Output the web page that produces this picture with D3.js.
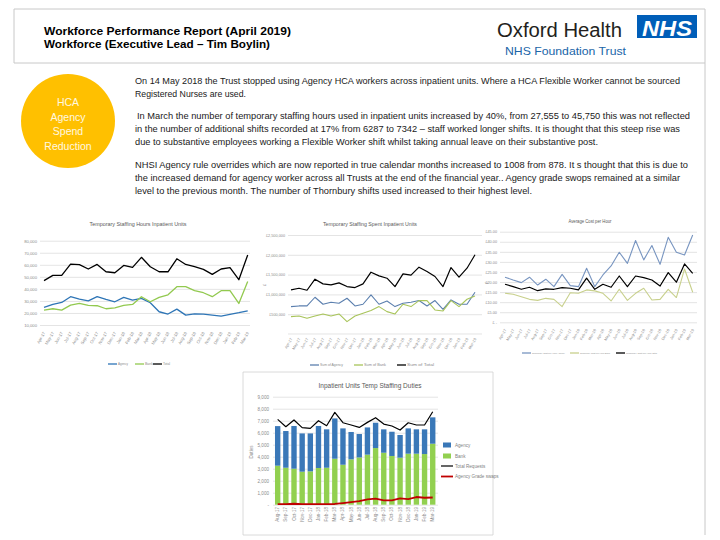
<!DOCTYPE html>
<html>
<head>
<meta charset="utf-8">
<script src="https://cdn.jsdelivr.net/npm/d3@7"></script>
<style>
body { margin: 0; background: #fff; }
svg { display: block; font-family: "Liberation Sans", Arial, sans-serif; }
</style>
</head>
<body>
<svg id="slide" width="720" height="540"></svg>
<script>
// months for the three line charts (Apr-17 .. Mar-19)
var months = ["Apr-17","May-17","Jun-17","Jul-17","Aug-17","Sep-17","Oct-17","Nov-17","Dec-17","Jan-18","Feb-18","Mar-18",
              "Apr-18","May-18","Jun-18","Jul-18","Aug-18","Sep-18","Oct-18","Nov-18","Dec-18","Jan-19","Feb-19","Mar-19"];

// Temporary Staffing Hours Inpatient Units
var hoursAgency = [24600,27100,28700,33500,31500,30100,33500,31200,29300,32900,30700,32100,28500,21000,19100,23200,18200,19300,19100,18200,17400,18800,20200,21800];
var hoursBank   = [22400,23500,22400,26500,27900,26300,26000,23500,24300,26300,27100,33500,29300,32900,35100,41800,41800,38500,36800,33500,38500,38500,27900,46200];
var hoursTotal  = [46800,51200,51200,60600,60100,56500,60300,54200,53400,59500,57800,66200,58400,54200,54200,65000,60300,58400,56200,52000,56500,57600,47600,68100];
var hoursTicks  = [10000,20000,30000,40000,50000,60000,70000,80000];

// Temporary Staffing Spent Inpatient Units
var spendAgency = [692000,709000,709000,928000,751000,802000,776000,903000,709000,751000,987000,751000,835000,692000,776000,802000,844000,709000,844000,624000,861000,751000,751000,1055000];
var spendBank   = [439000,456000,397000,456000,506000,456000,506000,312000,456000,523000,591000,692000,565000,506000,751000,692000,844000,844000,608000,582000,844000,692000,878000,962000];
var spendTotal  = [1114000,1156000,1105000,1384000,1266000,1240000,1291000,1198000,1173000,1266000,1561000,1468000,1409000,1198000,1519000,1485000,1688000,1578000,1452000,1198000,1679000,1435000,1662000,2000000];
var spendTicks  = [500000,1000000,1500000,2000000,2500000];

// Average Cost per Hour
var costAgency = [22.4,21.0,19.7,22.4,18.5,21.4,17.7,23.8,18.2,17.7,26.8,17.7,23.5,28.0,34.8,29.3,40.6,31.0,38.1,28.8,42.2,34.8,33.4,43.4];
var costBank   = [14.4,13.9,12.7,11.4,10.9,11.9,11.4,7.8,14.7,14.4,16.1,15.6,14.4,10.6,16.4,10.9,14.4,16.9,11.1,11.4,16.4,12.3,26.5,14.9];
var costTotal  = [18.9,17.7,16.4,17.4,15.7,16.6,16.4,17.2,16.9,16.1,21.9,16.4,18.9,17.4,23.0,17.7,23.0,22.2,21.0,18.0,24.7,19.9,29.0,24.3];
var costTicks  = [0,5,10,15,20,25,30,35,40,45];

// Inpatient Units Temp Staffing Duties
var dutyMonths   = ["Aug-17","Sep-17","Oct-17","Nov-17","Dec-17","Jan-18","Feb-18","Mar-18","Apr-18","May-18",
                    "Jun-18","Jul-18","Aug-18","Sep-18","Oct-18","Nov-18","Dec-18","Jan-19","Feb-19","Mar-19"];
var dutyBank     = [3250,3080,3000,2750,2780,3060,3080,3830,3330,3780,3940,4170,4720,4330,4060,3920,4250,4250,4220,5080];
var dutyAgency   = [3300,3060,3560,3190,3160,3500,3200,3360,3030,2280,1950,2270,2110,1950,2020,1890,2110,2030,2060,2200];
var dutyRequests = [7110,6500,7060,6420,6360,7000,6580,7690,6830,6640,6440,6860,7250,6720,6560,6220,6830,6640,6640,7750];
var gradeSwaps   = [50,50,80,50,50,50,50,60,140,220,300,450,500,360,360,530,470,640,580,600];
var dutyTicks    = [0,1000,2000,3000,4000,5000,6000,7000,8000,9000];

var svg = d3.select("#slide");

// slide frame
svg.append("path").attr("d", "M14,63V9H705V535M14,63H705")
    .attr("fill", "none").attr("stroke", "#c8c8c8").attr("stroke-width", 1);

// header
svg.append("text").attr("x", 44).attr("y", 34.5).attr("font-size", 10.5).attr("font-weight", "bold")
    .attr("textLength", 247).attr("lengthAdjust", "spacingAndGlyphs")
    .text("Workforce Performance Report (April 2019)");
svg.append("text").attr("x", 44).attr("y", 47.5).attr("font-size", 10.5).attr("font-weight", "bold")
    .attr("textLength", 226).attr("lengthAdjust", "spacingAndGlyphs")
    .text("Workforce (Executive Lead \u2013 Tim Boylin)");

// logo
svg.append("text").attr("x", 497).attr("y", 36.5).attr("font-size", 19.5).attr("fill", "#231f20")
    .attr("textLength", 125).attr("lengthAdjust", "spacingAndGlyphs").text("Oxford Health");
svg.append("text").attr("x", 505).attr("y", 54.5).attr("font-size", 10.5).attr("fill", "#2065a8")
    .attr("textLength", 121).attr("lengthAdjust", "spacingAndGlyphs").text("NHS Foundation Trust");
svg.append("rect").attr("x", 637).attr("y", 15).attr("width", 60).attr("height", 23).attr("fill", "#005eb8");
svg.append("text").attr("x", 667).attr("y", 35.5).attr("text-anchor", "middle").attr("font-size", 22)
    .attr("font-weight", "bold").attr("font-style", "italic").attr("fill", "#fff")
    .attr("textLength", 50).attr("lengthAdjust", "spacingAndGlyphs").text("NHS");

// HCA circle
svg.append("circle").attr("cx", 68).attr("cy", 121).attr("r", 47).attr("fill", "#ffc000");
["HCA", "Agency", "Spend", "Reduction"].forEach(function(t, i) {
    svg.append("text").attr("x", 68).attr("y", 106 + i * 14.5).attr("text-anchor", "middle")
        .attr("font-size", 10.5).attr("fill", "#fff8e0").text(t);
});

// commentary
var para = [
    {t: "On 14 May 2018 the Trust stopped using Agency HCA workers across inpatient units.  Where a HCA Flexible Worker cannot be sourced", x: 135, y: 84, w: 545},
    {t: "Registered Nurses are used.", x: 135, y: 97, w: 111},
    {t: "In March the number of temporary staffing hours used in inpatient units increased by 40%, from 27,555  to 45,750  this was not reflected", x: 137, y: 119, w: 553},
    {t: "in the number of additional shifts recorded at 17% from 6287 to 7342 \u2013 staff worked longer shifts.  It is thought that this steep rise was", x: 135, y: 132, w: 545},
    {t: "due to substantive employees working a Flexible Worker shift whilst taking annual leave on their substantive post.", x: 135, y: 145, w: 463},
    {t: "NHSI Agency rule overrides which are now reported in true calendar months  increased to 1008 from 878.  It s thought that this is due to", x: 135, y: 168, w: 553},
    {t: "the increased demand for agency worker across all Trusts at the end of the financial year..  Agency grade swops remained at a similar", x: 135, y: 181, w: 545},
    {t: "level to the previous month. The number of Thornbury shifts used increased to their highest level.", x: 135, y: 193.5, w: 397}
];
svg.selectAll("text.para").data(para).join("text").attr("class", "para")
    .attr("x", function(d) { return d.x; }).attr("y", function(d) { return d.y; })
    .attr("font-size", 8.6).attr("fill", "#1a1a1a")
    .attr("textLength", function(d) { return d.w; }).attr("lengthAdjust", "spacingAndGlyphs")
    .text(function(d) { return d.t; });

function lineChart(cfg) {
    var g = svg.append("g");
    var x = d3.scalePoint().domain(cfg.cats).range(cfg.xr);
    var y = d3.scaleLinear().domain(cfg.yd).range(cfg.yr);

    var grid = g.append("g").attr("transform", "translate(" + cfg.gx[0] + ",0)")
        .call(d3.axisLeft(y).tickValues(cfg.ticks).tickSize(-(cfg.gx[1] - cfg.gx[0]))
            .tickPadding(cfg.pad).tickFormat(cfg.fmt));
    grid.select(".domain").remove();
    grid.selectAll("line").attr("stroke", "#d9d9d9").attr("stroke-width", 0.7);
    grid.selectAll("text").attr("fill", "#8c8c8c").attr("font-size", cfg.fs)
        .attr("font-family", "Liberation Sans, Arial, sans-serif");

    if (cfg.base != null) {
        g.append("line").attr("x1", cfg.gx[0]).attr("x2", cfg.gx[1])
            .attr("y1", y(cfg.base)).attr("y2", y(cfg.base)).attr("stroke", "#d9d9d9").attr("stroke-width", 0.7);
    }

    g.selectAll("text.xl").data(cfg.cats).join("text").attr("class", "xl")
        .attr("transform", function(d) { return "translate(" + (x(d) + 1.5) + "," + cfg.xly + ") rotate(-60)"; })
        .attr("text-anchor", "end").attr("font-size", cfg.fs).attr("fill", "#8c8c8c").text(function(d) { return d; });

    var line = d3.line()
        .x(function(d, i) { return x(cfg.cats[i]); })
        .y(function(d) { return y(d); });

    cfg.series.forEach(function(s) {
        g.append("path").datum(s.values).attr("d", line)
            .attr("fill", "none").attr("stroke", s.color).attr("stroke-width", s.w)
            .attr("stroke-linejoin", "round");
    });

    g.append("text").attr("x", cfg.title.x).attr("y", cfg.title.y).attr("text-anchor", "middle")
        .attr("font-size", cfg.title.fs).attr("fill", "#595959")
        .attr("textLength", cfg.title.w).attr("lengthAdjust", "spacingAndGlyphs").text(cfg.title.t);

    cfg.series.forEach(function(s) {
        g.append("line").attr("x1", s.lx).attr("x2", s.lx + 9).attr("y1", cfg.ly).attr("y2", cfg.ly)
            .attr("stroke", s.color).attr("stroke-width", 1.3);
        g.append("text").attr("x", s.lx + 10).attr("y", cfg.ly + 1.2).attr("font-size", cfg.lfs || cfg.fs)
            .attr("fill", "#8c8c8c").attr("textLength", s.lw).attr("lengthAdjust", "spacingAndGlyphs").text(s.name);
    });

    if (cfg.axisTitle) {
        g.append("text").attr("transform", "translate(" + cfg.axisTitle.x + "," + cfg.axisTitle.y + ") rotate(-90)")
            .attr("text-anchor", "middle").attr("font-size", cfg.fs).attr("fill", "#8c8c8c").text(cfg.axisTitle.t);
    }
}

lineChart({
    cats: months, xr: [44, 247.7], yd: [10000, 80000], yr: [325, 240.7], gx: [40, 250], ticks: hoursTicks,
    fmt: d3.format(","), pad: 3, fs: 4.2, xly: 333,
    title: {t: "Temporary Staffing Hours Inpatient Units", x: 138, y: 225.5, fs: 6, w: 97},
    ly: 364,
    series: [
        {name: "Agency", values: hoursAgency, color: "#2e75b6", w: 1.3, lx: 108, lw: 10},
        {name: "Bank", values: hoursBank, color: "#92c94f", w: 1.3, lx: 135, lw: 8},
        {name: "Total", values: hoursTotal, color: "#000", w: 1.3, lx: 153, lw: 7}
    ]
});

lineChart({
    cats: months, xr: [291, 475], yd: [0, 2500000], yr: [334, 235], gx: [288, 482], ticks: spendTicks,
    fmt: function(d) { return "\u00a3" + d3.format(",")(d); }, pad: 3, fs: 3.8, lfs: 3.4, xly: 339, base: 0,
    title: {t: "Temporary Staffing Spent Inpatient Units", x: 370, y: 225.5, fs: 6, w: 94},
    ly: 365, axisTitle: {t: "\u00a3", x: 266, y: 285},
    series: [
        {name: "Sum of Agency", values: spendAgency, color: "#5b7fae", w: 1.1, lx: 310, lw: 23},
        {name: "Sum of Bank", values: spendBank, color: "#a8c45a", w: 1.1, lx: 354, lw: 22},
        {name: "Sum of Total", values: spendTotal, color: "#000", w: 1.2, lx: 397, lw: 27}
    ]
});

lineChart({
    cats: months, xr: [505, 692.7], yd: [0, 45], yr: [322.3, 231.7], gx: [500, 697], ticks: costTicks,
    fmt: function(d) { return d === 0 ? "\u00a3 -" : "\u00a3" + d3.format(".2f")(d); }, pad: 3, fs: 3.8, lfs: 2.3, xly: 330,
    title: {t: "Average Cost per Hour", x: 590, y: 222.5, fs: 6, w: 43},
    ly: 353, axisTitle: {t: "\u00a3", x: 488, y: 283},
    series: [
        {name: "Temporary Cost per Hour Agency", values: costAgency, color: "#7895c0", w: 1.1, lx: 522, lw: 33},
        {name: "Temporary Cost per Hour Bank", values: costBank, color: "#c8d08c", w: 1.1, lx: 570, lw: 30},
        {name: "Temporary Cost per Hour Total", values: costTotal, color: "#000", w: 1.2, lx: 616, lw: 31}
    ]
});

// stacked bar chart: duties
(function() {
    var g = svg.append("g");
    g.append("path").attr("d", "M243,372H493V535H243Z").attr("fill", "none").attr("stroke", "#d0d0d0").attr("stroke-width", 0.8);

    var x = d3.scaleBand().domain(dutyMonths).range([273.6, 436.8]).paddingInner(0.34).paddingOuter(0.17);
    var y = d3.scaleLinear().domain([0, 9000]).range([504.7, 396.7]);

    var grid = g.append("g").attr("transform", "translate(273,0)")
        .call(d3.axisLeft(y).tickValues(dutyTicks).tickSize(-165).tickPadding(4)
            .tickFormat(function(d) { return d === 0 ? "-" : d3.format(",")(d); }));
    grid.select(".domain").remove();
    grid.selectAll("line").attr("stroke", "#d9d9d9").attr("stroke-width", 0.7);
    grid.selectAll("text").attr("fill", "#8c8c8c").attr("font-size", 4.6)
        .attr("font-family", "Liberation Sans, Arial, sans-serif");

    var rows = dutyMonths.map(function(m, i) { return {month: m, Bank: dutyBank[i], Agency: dutyAgency[i]}; });
    var stack = d3.stack().keys(["Bank", "Agency"])(rows);
    var colors = {Bank: "#92d050", Agency: "#3a78b8"};

    g.selectAll("g.layer").data(stack).join("g").attr("class", "layer")
        .attr("fill", function(d) { return colors[d.key]; })
        .selectAll("rect").data(function(d) { return d; }).join("rect")
        .attr("x", function(d) { return x(d.data.month); })
        .attr("width", x.bandwidth())
        .attr("y", function(d) { return y(d[1]); })
        .attr("height", function(d) { return y(d[0]) - y(d[1]); });

    var line = d3.line()
        .x(function(d, i) { return x(dutyMonths[i]) + x.bandwidth() / 2; })
        .y(function(d) { return y(d); });
    g.append("path").datum(dutyRequests).attr("d", line).attr("fill", "none")
        .attr("stroke", "#000").attr("stroke-width", 1.2).attr("stroke-linejoin", "round");
    g.append("path").datum(gradeSwaps).attr("d", line).attr("fill", "none")
        .attr("stroke", "#c00000").attr("stroke-width", 1.8).attr("stroke-linejoin", "round");

    g.selectAll("text.xl").data(dutyMonths).join("text").attr("class", "xl")
        .attr("transform", function(d) { return "translate(" + (x(d) + x.bandwidth() / 2 + 1.5) + ",507) rotate(-90)"; })
        .attr("text-anchor", "end").attr("font-size", 4.6).attr("fill", "#8c8c8c").text(function(d) { return d; });

    g.append("text").attr("x", 370).attr("y", 388).attr("text-anchor", "middle").attr("font-size", 7)
        .attr("fill", "#595959").attr("textLength", 103).attr("lengthAdjust", "spacingAndGlyphs")
        .text("Inpatient Units Temp Staffing Duties");
    g.append("text").attr("transform", "translate(253,452) rotate(-90)").attr("text-anchor", "middle")
        .attr("font-size", 4.6).attr("fill", "#8c8c8c").text("Duties");

    var legend = [
        {name: "Agency", color: "#3a78b8", kind: "box", y: 445},
        {name: "Bank", color: "#92d050", kind: "box", y: 456},
        {name: "Total Requests", color: "#000", kind: "line", y: 466},
        {name: "Agency Grade swaps", color: "#c00000", kind: "line", y: 476.5}
    ];
    legend.forEach(function(l) {
        if (l.kind === "box") {
            g.append("rect").attr("x", 443).attr("y", l.y - 2.5).attr("width", 8).attr("height", 5).attr("fill", l.color);
        } else {
            g.append("line").attr("x1", 441).attr("x2", 453).attr("y1", l.y).attr("y2", l.y)
                .attr("stroke", l.color).attr("stroke-width", l.color === "#000" ? 1.2 : 1.8);
        }
        g.append("text").attr("x", 455).attr("y", l.y + 1.6).attr("font-size", 4.6).attr("fill", "#7f7f7f").text(l.name);
    });
})();
</script>
</body>
</html>
